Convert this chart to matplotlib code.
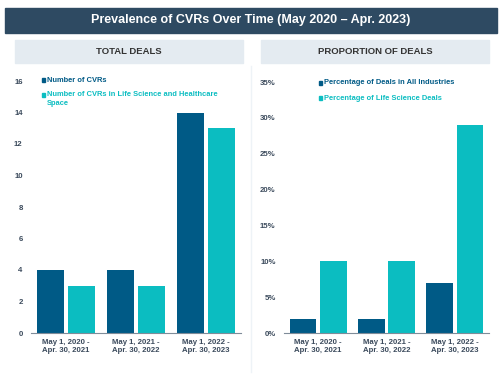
import numpy as np
import matplotlib.pyplot as plt
from matplotlib.patches import Rectangle

periods = ['May 1, 2020 -\nApr. 30, 2021', 'May 1, 2021 -\nApr. 30, 2022', 'May 1, 2022 -\nApr. 30, 2023']
cvrs_all = [4, 4, 14]
cvrs_life = [3, 3, 13]
pct_all = [2, 2, 7]
pct_life = [10, 10, 29]

dark = '#005a86'
teal = '#0bbdc1'
navy = '#2e4a62'
txt = '#3b4a5c'

plt.rcParams['font.family'] = ['Liberation Sans', 'DejaVu Sans']

fig = plt.figure(figsize=(5.02, 3.75), dpi=100)
W, H = 502, 375


def box(x0, y0, x1, y1, color):
    fig.patches.append(Rectangle((x0 / W, 1 - y1 / H), (x1 - x0) / W, (y1 - y0) / H,
                                 transform=fig.transFigure, color=color, zorder=0))


# banner and panel headers
box(5, 8, 497, 33, navy)
fig.text(251 / W, 1 - 20.5 / H, 'Prevalence of CVRs Over Time (May 2020 \u2013 Apr. 2023)',
         color='white', fontsize=9, fontweight='bold', ha='center', va='center')
box(15, 40, 243, 63, '#e4ebf1')
box(261, 40, 489, 63, '#e4ebf1')
fig.text(129 / W, 1 - 51.5 / H, 'TOTAL DEALS', color='#333333', fontsize=6.8,
         fontweight='bold', ha='center', va='center')
fig.text(375 / W, 1 - 51.5 / H, 'PROPORTION OF DEALS', color='#333333', fontsize=6.8,
         fontweight='bold', ha='center', va='center')
fig.add_artist(plt.Line2D([251 / W, 251 / W], [1 - 66 / H, 1 - 372 / H],
                          color='#eef3f7', lw=1))

x = np.arange(len(periods))
w = 0.39
off = 0.22


def style(ax):
    for s in ['top', 'right', 'left']:
        ax.spines[s].set_visible(False)
    ax.spines['bottom'].set_color('#7f8c99')
    ax.tick_params(length=0, colors=txt, labelsize=5.6)
    ax.tick_params(axis='y', pad=6)
    ax.tick_params(axis='x', pad=4)
    for lab in ax.get_xticklabels() + ax.get_yticklabels():
        lab.set_fontweight('bold')
    ax.set_xlim(-0.5, 2.5)


ax1 = fig.add_axes([31 / W, 1 - 333 / H, 210 / W, (333 - 81) / H])
ax1.bar(x - off, cvrs_all, w, color=dark)
ax1.bar(x + off, cvrs_life, w, color=teal)
ax1.set_ylim(0, 16)
ax1.set_yticks(range(0, 17, 2))
ax1.set_xticks(x)
ax1.set_xticklabels(periods)
style(ax1)

ax2 = fig.add_axes([284 / W, 1 - 333 / H, 205 / W, (333 - 82) / H])
ax2.bar(x - off, pct_all, w, color=dark)
ax2.bar(x + off, pct_life, w, color=teal)
ax2.set_ylim(0, 35)
ax2.set_yticks(range(0, 36, 5))
ax2.set_yticklabels([f'{v}%' for v in range(0, 36, 5)])
ax2.set_xticks(x)
ax2.set_xticklabels(periods)
style(ax2)

# legends
legend_items = [
    (42, 80, dark, 'Number of CVRs'),
    (42, 95, teal, 'Number of CVRs in Life Science and Healthcare\nSpace'),
    (319, 83, dark, 'Percentage of Deals in All Industries'),
    (319, 98, teal, 'Percentage of Life Science Deals'),
]
for lx, ly, c, label in legend_items:
    fig.patches.append(Rectangle((lx / W, 1 - (ly + 1.5) / H), 3.5 / W, 3.5 / H,
                                 transform=fig.transFigure, color=c))
    fig.text((lx + 5) / W, 1 - (ly - 3.5) / H, label, color=c, fontsize=5.4,
             fontweight='bold', va='top', ha='left', linespacing=1.3)

fig.savefig('out.png', dpi=100)
